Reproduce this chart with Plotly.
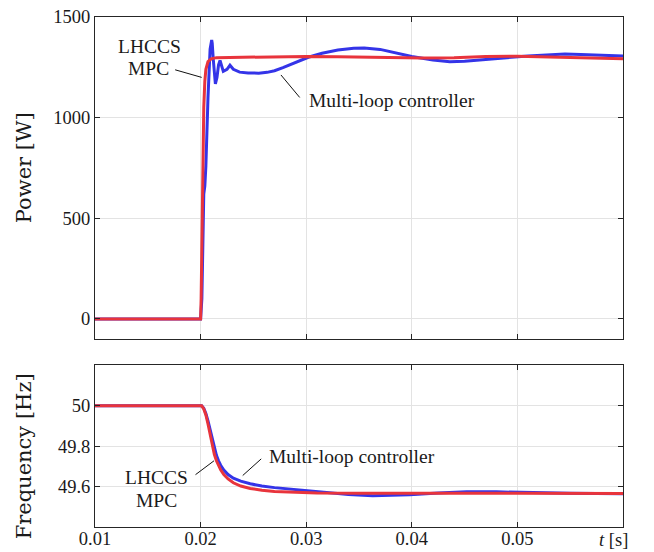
import plotly.graph_objects as go

# ---------------- data ----------------
t_p_mpc = [0.0100, 0.0199, 0.0200, 0.02005, 0.0202, 0.0203, 0.0204, 0.0205, 0.0207,
           0.0210, 0.0215, 0.0225, 0.0240, 0.0260, 0.0280, 0.0300, 0.0330, 0.0350,
           0.0380, 0.0410, 0.0440, 0.0470, 0.0500, 0.0530, 0.0560, 0.0600]
p_mpc = [0, 0, 0, 100, 700, 1050, 1180, 1240, 1278,
         1292, 1298, 1299, 1297, 1300, 1303, 1304, 1302, 1300,
         1297, 1296, 1298, 1304, 1305, 1301, 1296, 1292]

t_p_ml = [0.0100, 0.0199, 0.0200, 0.02012, 0.0202, 0.0203, 0.0204, 0.0205, 0.0207,
          0.0209, 0.02105, 0.0211, 0.0212, 0.0214, 0.02155, 0.0217, 0.02184, 0.0220,
          0.02215, 0.0225, 0.02278, 0.0231, 0.0237, 0.0245, 0.0255, 0.0263, 0.0270,
          0.0278, 0.0286, 0.0294, 0.0302, 0.0315, 0.0330, 0.0345, 0.0355, 0.0370,
          0.0385, 0.0400, 0.0420, 0.0436, 0.0450, 0.0470, 0.0490, 0.0510, 0.0530,
          0.0545, 0.0560, 0.0580, 0.0600]
p_ml = [0, 0, 0, 100, 400, 620, 660, 760, 1100,
        1340, 1386, 1370, 1290, 1168, 1200, 1262, 1284, 1260,
        1230, 1240, 1260, 1240, 1226, 1222, 1221, 1225, 1233,
        1248, 1266, 1283, 1300, 1320, 1336, 1345, 1346, 1339,
        1321, 1304, 1286, 1278, 1280, 1290, 1298, 1306, 1313,
        1316, 1314, 1310, 1306]

t_f_mpc = [0.0100, 0.0200, 0.0201, 0.0203, 0.0205, 0.0207, 0.0209, 0.0211, 0.0213,
           0.0215, 0.0217, 0.0219, 0.0222, 0.0226, 0.0231, 0.0238, 0.0247, 0.0258,
           0.0270, 0.0285, 0.0310, 0.0350, 0.0400, 0.0450, 0.0500, 0.0600]
f_mpc = [50.0, 50.0, 50.0, 49.985, 49.955, 49.91, 49.86, 49.80, 49.76,
         49.728, 49.703, 49.683, 49.66, 49.638, 49.619, 49.603, 49.591, 49.582,
         49.576, 49.572, 49.569, 49.567, 49.568, 49.568, 49.567, 49.566]

t_f_ml = [0.0100, 0.0200, 0.0201, 0.0203, 0.0205, 0.0207, 0.0209, 0.0211, 0.0213,
          0.0215, 0.0217, 0.0219, 0.0222, 0.0226, 0.0231, 0.0238, 0.0247, 0.0258,
          0.0270, 0.0294, 0.0320, 0.0340, 0.0363, 0.0380, 0.0398, 0.0425, 0.0452,
          0.0480, 0.0500, 0.0550, 0.0600]
f_ml = [50.0, 50.0, 50.0, 49.988, 49.962, 49.925, 49.88, 49.83, 49.79,
        49.755, 49.728, 49.706, 49.682, 49.66, 49.642, 49.627, 49.614, 49.603,
        49.595, 49.583, 49.571, 49.561, 49.555, 49.556, 49.56, 49.569, 49.575,
        49.574, 49.571, 49.567, 49.565]

x_ticks = [0.01, 0.02, 0.03, 0.04, 0.05]
x_ticklabels = ["0.01", "0.02", "0.03", "0.04", "0.05"]
p_ticks = [0, 500, 1000, 1500]
f_ticks = [49.6, 49.8, 50.0]
f_ticklabels = ["49.6", "49.8", "50"]

BLUE = "rgb(52,52,232)"
RED = "rgb(232,52,60)"
FONT = "Liberation Serif"
TFONT = "DejaVu Serif"
TXT = "#1a1a1a"

fig = go.Figure()
fig.add_trace(go.Scatter(x=t_p_ml, y=p_ml, mode="lines", line=dict(color=BLUE, width=3),
                         xaxis="x", yaxis="y", showlegend=False))
fig.add_trace(go.Scatter(x=t_p_mpc, y=p_mpc, mode="lines", line=dict(color=RED, width=3),
                         xaxis="x", yaxis="y", showlegend=False))
fig.add_trace(go.Scatter(x=t_f_ml, y=f_ml, mode="lines", line=dict(color=BLUE, width=3),
                         xaxis="x2", yaxis="y2", showlegend=False))
fig.add_trace(go.Scatter(x=t_f_mpc, y=f_mpc, mode="lines", line=dict(color=RED, width=3),
                         xaxis="x2", yaxis="y2", showlegend=False))

axis_common = dict(showline=True, linecolor="#262626", linewidth=1, mirror="ticks",
                   ticks="inside", ticklen=5, tickcolor="#262626", tickwidth=1,
                   showgrid=True, gridcolor="#e3e3e3", gridwidth=1, zeroline=False,
                   automargin=False,
                   tickfont=dict(family=FONT, size=18.5, color=TXT))

fig.update_layout(
    width=654, height=552,
    margin=dict(l=95, r=31, t=17, b=25),
    plot_bgcolor="white", paper_bgcolor="white",
    font=dict(family=FONT, color=TXT),
    xaxis=dict(domain=[0, 1], range=[0.01, 0.06], anchor="y", tickvals=x_ticks,
               showticklabels=False, **axis_common),
    yaxis=dict(domain=[0.3686, 1.0], range=[-100, 1500], anchor="x", tickvals=p_ticks,
               **axis_common),
    xaxis2=dict(domain=[0, 1], range=[0.01, 0.06], anchor="y2", tickvals=x_ticks,
                ticktext=x_ticklabels, ticklabelstandoff=-5, **axis_common),
    yaxis2=dict(domain=[0, 0.3167], range=[49.4, 50.2], anchor="x2", tickvals=f_ticks,
                ticktext=f_ticklabels, **axis_common),
)

afont = dict(family=FONT, size=19.5, color=TXT)
ann = []
# axis titles
ann.append(dict(text="Power [W]", xref="paper", yref="paper", x=-0.134, y=0.704,
                xanchor="center", yanchor="middle", textangle=-90, showarrow=False,
                font=dict(family=TFONT, size=21, color=TXT)))
ann.append(dict(text="Frequency [Hz]", xref="paper", yref="paper", x=-0.134, y=0.139,
                xanchor="center", yanchor="middle", textangle=-90, showarrow=False,
                font=dict(family=TFONT, size=21, color=TXT)))
ann.append(dict(text="<i>t</i> [s]", xref="x2", yref="paper", x=0.06, y=0, yshift=-13,
                xanchor="center", yanchor="middle", xshift=-10, showarrow=False,
                font=dict(family=FONT, size=18.5, color=TXT)))
# top labels
ann.append(dict(text="LHCCS", xref="x", yref="y", x=0.01518, y=1353, showarrow=False, font=afont))
ann.append(dict(text="MPC", xref="x", yref="y", x=0.01509, y=1242, showarrow=False, font=afont))
ann.append(dict(text="", xref="x", yref="y", x=0.0201, y=1200, ax=-28, ay=-8,
                showarrow=True, arrowhead=0, arrowwidth=1, arrowcolor="#111"))
ann.append(dict(text="Multi-loop controller", xref="x", yref="y", x=0.03008, y=1083,
                xanchor="left", showarrow=False, font=afont))
ann.append(dict(text="", xref="x", yref="y", x=0.02761, y=1212, ax=20, ay=24,
                showarrow=True, arrowhead=0, arrowwidth=1, arrowcolor="#111"))
# bottom labels
ann.append(dict(text="LHCCS", xref="x2", yref="y2", x=0.01587, y=49.646, showarrow=False, font=afont))
ann.append(dict(text="MPC", xref="x2", yref="y2", x=0.01587, y=49.531, showarrow=False, font=afont))
ann.append(dict(text="", xref="x2", yref="y2", x=0.02127, y=49.728, ax=-20, ay=15,
                showarrow=True, arrowhead=0, arrowwidth=1, arrowcolor="#111"))
ann.append(dict(text="Multi-loop controller", xref="x2", yref="y2", x=0.02629, y=49.748,
                xanchor="left", showarrow=False, font=afont))
ann.append(dict(text="", xref="x2", yref="y2", x=0.02399, y=49.655, ax=20, ay=-18,
                showarrow=True, arrowhead=0, arrowwidth=1, arrowcolor="#111"))
fig.update_layout(annotations=ann)

fig.write_html("out.html")
